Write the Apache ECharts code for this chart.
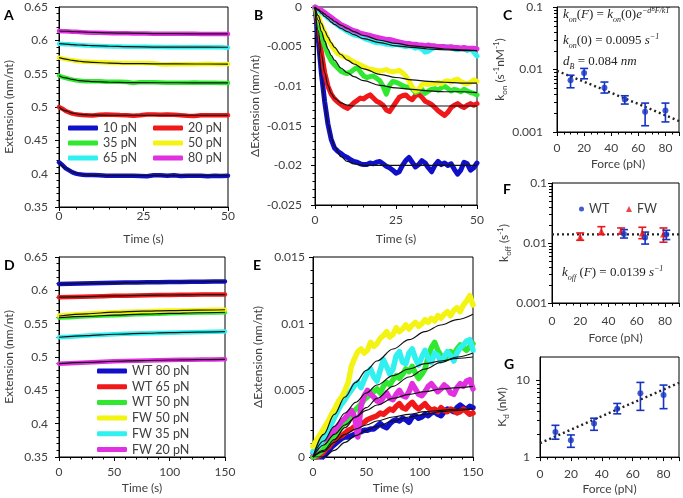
<!DOCTYPE html>
<html><head><meta charset="utf-8">
<script src="https://cdn.jsdelivr.net/npm/echarts@6/dist/echarts.min.js"></script>
<style>html,body{margin:0;padding:0;background:#fff}#c{width:683px;height:498px}</style>
</head><body><div id="c"></div>
<script>
// ---------- Panel A (Extension vs time, 0-50 s) ----------
const tA = [0,1,2,3,4,5,6,7,8,10,12,14,16,18,20,22,24,26,28,30,32,34,36,38,40,42,44,46,48,50];
const aBlue = [0.417,0.413,0.408,0.405,0.402,0.400,0.399,0.3985,0.398,0.398,
  0.3975,0.397,0.397,0.397,0.397,0.397,0.3965,0.396,0.3975,0.3975,
  0.397,0.3975,0.3965,0.397,0.397,0.397,0.396,0.397,0.3965,0.397];
const aRed = [0.500,0.4975,0.494,0.492,0.490,0.489,0.4885,0.488,0.4877,0.4873,
  0.4885,0.4887,0.4885,0.488,0.4878,0.487,0.4875,0.4887,0.4888,0.4885,
  0.4888,0.4882,0.4878,0.4870,0.4865,0.4875,0.4878,0.4875,0.4878,0.4878];
const aGreen = [0.547,0.545,0.5435,0.5422,0.541,0.540,0.5395,0.539,0.5387,0.5385,
  0.5388,0.5380,0.5378,0.5380,0.5376,0.5360,0.5373,0.5372,0.5370,0.5368,
  0.5364,0.5365,0.5362,0.5365,0.5366,0.5364,0.5365,0.5363,0.5361,0.5359];
const aYellow = [0.574,0.573,0.5718,0.571,0.570,0.5693,0.5686,0.5682,0.568,0.5676,
  0.5672,0.5667,0.5663,0.5661,0.566,0.5661,0.5659,0.5658,0.5655,0.5642,
  0.5638,0.5644,0.5643,0.5645,0.5642,0.5646,0.5648,0.5644,0.5643,0.5645];
const aCyan = [0.595,0.5946,0.5943,0.594,0.5936,0.5933,0.593,0.5927,0.5924,0.5919,
  0.5915,0.5912,0.5909,0.5906,0.5905,0.5903,0.5902,0.5902,0.5900,0.5900,
  0.5898,0.5899,0.5896,0.5895,0.5899,0.5898,0.5897,0.5896,0.5897,0.5890];
const aMagenta = [0.614,0.6138,0.6136,0.6133,0.613,0.6127,0.6124,0.6121,0.6118,0.6114,
  0.6112,0.6110,0.6108,0.6106,0.6105,0.6104,0.6103,0.6101,0.6100,0.6099,
  0.6099,0.6098,0.6098,0.6097,0.6097,0.6096,0.6096,0.6095,0.6095,0.6094];
const tAf = [0,2,4,6,8,10,15,20,30,40,50];
const afBlue = [0.417,0.4085,0.4025,0.3995,0.398,0.3974,0.397,0.397,0.397,0.397,0.397];
const afRed = [0.500,0.4942,0.4907,0.4890,0.4882,0.4878,0.4876,0.4876,0.4876,0.4876,0.4876];
const afGreen = [0.547,0.5436,0.5413,0.5397,0.5387,0.538,0.5371,0.5367,0.5364,0.5363,0.5363];
const afYellow = [0.574,0.5718,0.5700,0.5686,0.5676,0.5669,0.5658,0.5652,0.5647,0.5645,0.5644];
const afCyan = [0.595,0.5943,0.5936,0.5930,0.5925,0.5920,0.5911,0.5905,0.5899,0.5897,0.5896];
const afMagenta = [0.614,0.6136,0.6131,0.6127,0.6123,0.6119,0.6112,0.6107,0.6101,0.6098,0.6096];

// ---------- Panel B (ΔExtension, 0-50 s) ----------
const tB = [0,1,2,3,4,5,6,7,8,9,10,11,12,13,14,15,16,17,18,19,20,21,22,23,24,25,26,27,28,29,30,31,32,33,34,35,36,37,38,39,40,41,42,43,44,45,46,47,48,49,50];
const bBlue = [0,-0.004,-0.0085,-0.012,-0.0148,-0.0167,-0.0178,-0.0182,-0.0185,-0.0188,
  -0.019,-0.0193,-0.0195,-0.0196,-0.0198,-0.0199,-0.0199,-0.0197,-0.0198,-0.0196,
  -0.0195,-0.0198,-0.0201,-0.0203,-0.0206,-0.021,-0.0208,-0.02,-0.0194,-0.019,
  -0.0196,-0.0202,-0.0199,-0.0194,-0.0197,-0.0203,-0.0208,-0.02,-0.0195,-0.0199,
  -0.0197,-0.02,-0.0198,-0.0205,-0.0211,-0.0206,-0.0196,-0.0198,-0.0206,-0.0203,
  -0.0197];
const bRed = [0,-0.0025,-0.0058,-0.0083,-0.0100,-0.0110,-0.0116,-0.0120,-0.0123,-0.0126,
  -0.0128,-0.0125,-0.0121,-0.0118,-0.0115,-0.0116,-0.0113,-0.0111,-0.0115,-0.0119,
  -0.0121,-0.0124,-0.0130,-0.0132,-0.0126,-0.0120,-0.0114,-0.0112,-0.0111,-0.0115,
  -0.0117,-0.0112,-0.0110,-0.0114,-0.0119,-0.0121,-0.0123,-0.0127,-0.0131,-0.0134,
  -0.0137,-0.0133,-0.0127,-0.0124,-0.0122,-0.0125,-0.0127,-0.0124,-0.0122,-0.0124,
  -0.0122];
const bGreen = [0,-0.0020,-0.0036,-0.0049,-0.0060,-0.0068,-0.0073,-0.0077,-0.0081,-0.0083,
  -0.0084,-0.0082,-0.0079,-0.0076,-0.0082,-0.0087,-0.0089,-0.0088,-0.0087,-0.0090,
  -0.0093,-0.0100,-0.0110,-0.0099,-0.0094,-0.0095,-0.0097,-0.0099,-0.0101,-0.0101,
  -0.0103,-0.0108,-0.0106,-0.0104,-0.0109,-0.0106,-0.0104,-0.0103,-0.0105,-0.0102,
  -0.0100,-0.0103,-0.0106,-0.0104,-0.0105,-0.0107,-0.0104,-0.0106,-0.0108,-0.0109,
  -0.0111];
const bYellow = [0,-0.0011,-0.0023,-0.0032,-0.0041,-0.0048,-0.0054,-0.0059,-0.0061,-0.0063,
  -0.0064,-0.0067,-0.0069,-0.0071,-0.0073,-0.0075,-0.0077,-0.0079,-0.0079,-0.0080,
  -0.0081,-0.0080,-0.0079,-0.0081,-0.0082,-0.0081,-0.0080,-0.0083,-0.0087,-0.0093,
  -0.0101,-0.0106,-0.0104,-0.0098,-0.0097,-0.0098,-0.0096,-0.0097,-0.0095,-0.0097,
  -0.0094,-0.0093,-0.0095,-0.0092,-0.0091,-0.0094,-0.0096,-0.0097,-0.0095,-0.0092,
  -0.0094];
const bCyan = [0,-0.0004,-0.0007,-0.0010,-0.0014,-0.0017,-0.0020,-0.0023,-0.0026,-0.0028,
  -0.0031,-0.0033,-0.0035,-0.0036,-0.0037,-0.0039,-0.0041,-0.0042,-0.0044,-0.0045,
  -0.0045,-0.0046,-0.0047,-0.0047,-0.0048,-0.0047,-0.0048,-0.0049,-0.0050,-0.0049,
  -0.0050,-0.0052,-0.0051,-0.0053,-0.0057,-0.0056,-0.0053,-0.0051,-0.0050,-0.0051,
  -0.0052,-0.0050,-0.0051,-0.0053,-0.0054,-0.0052,-0.0053,-0.0055,-0.0053,-0.0057,
  -0.0062];
const bMagenta = [0,-0.0002,-0.0004,-0.0007,-0.0010,-0.0013,-0.0016,-0.0019,-0.0022,-0.0024,
  -0.0026,-0.0028,-0.0030,-0.0031,-0.0033,-0.0034,-0.0035,-0.0036,-0.0037,-0.0038,
  -0.0039,-0.0040,-0.0041,-0.0041,-0.0042,-0.0043,-0.0044,-0.0045,-0.0046,-0.0046,
  -0.0047,-0.0047,-0.0048,-0.0048,-0.0049,-0.0048,-0.0049,-0.0049,-0.0050,-0.0050,
  -0.0050,-0.0051,-0.0050,-0.0051,-0.0051,-0.0052,-0.0051,-0.0052,-0.0052,-0.0052,
  -0.0053];
const tBf = [0,1,2,3,4,5,6,8,10,12,15,20,25,30,35,40,45,50];
const bfBlue = [0,-0.0045,-0.0088,-0.0122,-0.0148,-0.0165,-0.0176,-0.0189,-0.0195,-0.0198,-0.0200,-0.0200,-0.0200,-0.0200,-0.0200,-0.0200,-0.0200,-0.0200];
const bfRed = [0,-0.0030,-0.0060,-0.0083,-0.0099,-0.0109,-0.0115,-0.0121,-0.0124,-0.0125,-0.0125,-0.0125,-0.0125,-0.0125,-0.0125,-0.0125,-0.0125,-0.0125];
const bfGreen = [0,-0.0017,-0.0031,-0.0043,-0.0053,-0.0061,-0.0067,-0.0077,-0.0083,-0.0088,-0.0093,-0.0099,-0.0102,-0.0104,-0.0106,-0.0107,-0.0107,-0.0108];
const bfYellow = [0,-0.0011,-0.0021,-0.0030,-0.0038,-0.0045,-0.0051,-0.0060,-0.0067,-0.0072,-0.0078,-0.0085,-0.0089,-0.0092,-0.0094,-0.0095,-0.0096,-0.0096];
const bfCyan = [0,-0.0004,-0.0008,-0.0012,-0.0015,-0.0019,-0.0022,-0.0027,-0.0031,-0.0035,-0.0040,-0.0045,-0.0049,-0.0051,-0.0053,-0.0054,-0.0055,-0.0055];
const bfMagenta = [0,-0.0003,-0.0006,-0.0009,-0.0012,-0.0015,-0.0018,-0.0023,-0.0027,-0.0031,-0.0036,-0.0042,-0.0046,-0.0049,-0.0051,-0.0053,-0.0054,-0.0055];

// ---------- Panel C (kon vs force) ----------
const forceC = [10,20,35,50,65,80];
const kon = [0.0067,0.0088,0.0051,0.0033,0.0021,0.0022];
const konLo = [0.0051,0.0071,0.0042,0.0028,0.00126,0.00145];
const konHi = [0.0081,0.0104,0.0063,0.0038,0.0029,0.0029];
const fitForce = [0,30,60,90];
const konFit = [0.0095,0.0052,0.0028,0.0015];

// ---------- Panel F (koff vs force) ----------
const wtForce = [51,66,81];
const wtKoff = [0.0141,0.0124,0.0138];
const wtLo = [0.0121,0.0096,0.0114];
const wtHi = [0.0167,0.0152,0.0163];
const fwForce = [20,35,49,64,79];
const fwKoff = [0.0126,0.0157,0.0157,0.0147,0.0141];
const fwLo = [0.0111,0.0138,0.0141,0.0118,0.0103];
const fwHi = [0.0147,0.0187,0.0178,0.0183,0.0178];
const koffFitForce = [0,90];
const koffFit = [0.0139,0.0139];

// ---------- Panel G (Kd vs force) ----------
const forceG = [10,20,35,50,65,80];
const kd = [2.12,1.66,2.74,4.26,6.76,6.43];
const kdLo = [1.71,1.34,2.23,3.65,4.05,4.26];
const kdHi = [2.59,1.94,3.2,4.98,9.35,8.63];
const kdFit = [1.52,2.78,5.07,9.24];

// ---------- log-axis minor tick values ----------
const minorTicksK = [0.002,0.003,0.004,0.005,0.006,0.007,0.008,0.009,0.02,0.03,0.04,0.05,0.06,0.07,0.08,0.09];
const minorTicksKd = [2,3,4,5,6,7,8,9];

// ---------- Panel D (Extension, 0-150 s) ----------
const tD = [0,10,20,30,40,50,60,70,80,90,100,110,120,130,140,150];
const dBlue = [0.6094,0.6098,0.6102,0.6106,0.6110,0.6113,0.6116,0.6118,0.6120,0.6122,0.6124,0.6126,0.6128,0.6130,0.6132,0.6134];
const dRed = [0.5898,0.5900,0.5905,0.5909,0.5913,0.5917,0.5920,0.5923,0.5926,0.5929,0.5931,0.5933,0.5935,0.5936,0.5937,0.5938];
const dGreen = [0.5592,0.5598,0.5606,0.5614,0.5621,0.5628,0.5634,0.5640,0.5645,0.5650,0.5655,0.5659,0.5663,0.5666,0.5669,0.5672];
const dYellow = [0.5622,0.5632,0.5645,0.5656,0.5665,0.5672,0.5678,0.5683,0.5688,0.5692,0.5696,0.5699,0.5702,0.5705,0.5707,0.5710];
const dCyan = [0.5296,0.5305,0.5316,0.5326,0.5334,0.5341,0.5347,0.5352,0.5357,0.5361,0.5365,0.5369,0.5372,0.5375,0.5378,0.5381];
const dMagenta = [0.4900,0.4907,0.4915,0.4923,0.4930,0.4936,0.4941,0.4945,0.4949,0.4952,0.4955,0.4958,0.4960,0.4962,0.4964,0.4965];
const tDf = [0,25,50,75,100,125,150];
const dfBlue = [0.6094,0.6104,0.6113,0.6120,0.6125,0.6129,0.6132];
const dfRed = [0.5898,0.5907,0.5917,0.5925,0.5930,0.5934,0.5937];
const dfGreen = [0.5592,0.5610,0.5628,0.5643,0.5655,0.5664,0.5671];
const dfYellow = [0.5615,0.5648,0.5672,0.5687,0.5697,0.5704,0.5709];
const dfCyan = [0.5296,0.5321,0.5341,0.5355,0.5365,0.5373,0.5380];
const dfMagenta = [0.4900,0.4919,0.4936,0.4947,0.4955,0.4960,0.4964];

// ---------- Panel E (ΔExtension, 0-150 s) ----------
const tE = [0,3,6,9,12,15,18,21,24,27,30,33,36,39,42,45,48,51,54,57,60,63,66,69,72,75,78,81,84,87,90,93,96,99,102,105,108,111,114,117,120,123,126,129,132,135,138,141,144,147,150];
const eYellow = [0.0008,0.0012,0.0016,0.0020,0.0024,0.0028,0.0033,0.0037,0.0042,0.0045,
  0.0050,0.0056,0.0068,0.0074,0.0079,0.0081,0.0078,0.0080,0.0086,0.0083,
  0.0085,0.0089,0.0091,0.0094,0.0090,0.0092,0.0097,0.0094,0.0096,0.0099,
  0.0096,0.0099,0.0101,0.0098,0.0100,0.0103,0.0101,0.0104,0.0102,0.0106,
  0.0104,0.0107,0.0109,0.0106,0.0110,0.0112,0.0109,0.0114,0.0117,0.0121,
  0.0114];
const eCyan = [0.0004,0.0007,0.0009,0.0013,0.0017,0.0022,0.0026,0.0031,0.0036,0.0040,
  0.0043,0.0047,0.0050,0.0054,0.0056,0.0052,0.0058,0.0063,0.0066,0.0060,
  0.0057,0.0065,0.0073,0.0068,0.0062,0.0066,0.0076,0.0079,0.0071,0.0070,
  0.0078,0.0081,0.0074,0.0069,0.0075,0.0080,0.0074,0.0071,0.0078,0.0076,
  0.0072,0.0075,0.0079,0.0076,0.0072,0.0078,0.0082,0.0084,0.0087,0.0088,
  0.0080];
const eGreen = [0,0.0001,0.0003,0.0005,0.0008,0.0011,0.0014,0.0017,0.0020,0.0023,
  0.0026,0.0029,0.0032,0.0035,0.0037,0.0040,0.0043,0.0045,0.0047,0.0049,
  0.0051,0.0048,0.0053,0.0056,0.0054,0.0058,0.0061,0.0059,0.0062,0.0066,
  0.0064,0.0068,0.0063,0.0059,0.0062,0.0066,0.0075,0.0082,0.0086,0.0080,
  0.0076,0.0073,0.0076,0.0079,0.0077,0.0081,0.0084,0.0082,0.0080,0.0083,
  0.0085];
const eMagenta = [0.0003,0.0006,0.0009,0.0012,0.0014,0.0016,0.0018,0.0021,0.0024,0.0027,
  0.0029,0.0032,0.0035,0.0030,0.0015,0.0038,0.0046,0.0050,0.0047,0.0045,
  0.0042,0.0041,0.0045,0.0048,0.0044,0.0043,0.0047,0.0050,0.0046,0.0045,
  0.0049,0.0055,0.0051,0.0047,0.0046,0.0049,0.0053,0.0055,0.0052,0.0049,
  0.0051,0.0054,0.0052,0.0048,0.0047,0.0052,0.0055,0.0053,0.0057,0.0058,
  0.0051];
const eRed = [0,0,0.0001,0.0003,0.0006,0.0008,0.0011,0.0013,0.0015,0.0016,
  0.0018,0.0020,0.0021,0.0023,0.0024,0.0025,0.0026,0.0028,0.0029,0.0030,
  0.0031,0.0033,0.0032,0.0034,0.0036,0.0035,0.0038,0.0040,0.0037,0.0036,
  0.0039,0.0041,0.0038,0.0036,0.0038,0.0040,0.0037,0.0035,0.0036,0.0034,
  0.0037,0.0035,0.0034,0.0036,0.0035,0.0033,0.0034,0.0036,0.0034,0.0032,
  0.0033];
const eBlue = [0,0,0,0,0.0002,0.0005,0.0008,0.0010,0.0012,0.0014,
  0.0015,0.0015,0.0016,0.0017,0.0018,0.0019,0.0020,0.0020,0.0021,0.0021,
  0.0023,0.0025,0.0023,0.0022,0.0025,0.0027,0.0028,0.0027,0.0029,0.0028,
  0.0026,0.0030,0.0031,0.0029,0.0030,0.0032,0.0031,0.0033,0.0034,0.0032,
  0.0031,0.0034,0.0036,0.0035,0.0034,0.0037,0.0039,0.0037,0.0036,0.0038,
  0.0037];
const tEf = [0,10,20,30,40,50,60,75,90,105,120,135,150];
const efYellow = [0,0.0017,0.0032,0.0045,0.0056,0.0065,0.0072,0.0081,0.0088,0.0094,0.0099,0.0103,0.0107];
const efCyan = [0,0.0012,0.0023,0.0033,0.0041,0.0048,0.0054,0.0061,0.0066,0.0070,0.0072,0.0074,0.0075];
const efGreen = [0,0.0005,0.0013,0.0022,0.0030,0.0037,0.0044,0.0053,0.0060,0.0066,0.0071,0.0075,0.0078];
const efMagenta = [0,0.0009,0.0017,0.0024,0.0030,0.0035,0.0039,0.0044,0.0047,0.0049,0.0051,0.0052,0.0053];
const efRed = [0,0.0004,0.0011,0.0017,0.0021,0.0024,0.0027,0.0030,0.0032,0.0034,0.0035,0.0036,0.0036];
const efBlue = [0,0,0.0005,0.0011,0.0016,0.0020,0.0023,0.0027,0.0030,0.0032,0.0034,0.0035,0.0036];

// ---------- labels ----------
const namesA = ['10 pN','20 pN','35 pN','50 pN','65 pN','80 pN'];
const namesD = ['WT 80 pN','WT 65 pN','WT 50 pN','FW 50 pN','FW 35 pN','FW 20 pN'];

// ---------- styling ----------
const FONT = 'Lato';
const TXT = '#404040';
const C_BLUE = '#1010c8', C_RED = '#f01818', C_GREEN = '#30e830', C_YELLOW = '#f4f414', C_CYAN = '#30f0f0', C_MAG = '#e030e0';
const PT_BLUE = '#1533c4', PT_RED = '#e8181c';
const colsA = [C_BLUE, C_RED, C_GREEN, C_YELLOW, C_CYAN, C_MAG];
const colsD = [C_BLUE, C_RED, C_GREEN, C_YELLOW, C_CYAN, C_MAG];

function zip(xs, ys){ return xs.map((x,i)=>[x, ys[i]]); }
function trace(name, gi, xs, ys, color, w){
  return {type:'line', name, xAxisIndex:gi, yAxisIndex:gi, data:zip(xs,ys), symbol:'none', showSymbol:false,
    silent:true, animation:false, lineStyle:{color, width:w, cap:'round', join:'round'}, itemStyle:{color}, z:2};
}
function fit(gi, xs, ys){
  return {type:'line', name:'_fit', xAxisIndex:gi, yAxisIndex:gi, data:zip(xs,ys), symbol:'none', showSymbol:false,
    silent:true, animation:false, smooth:0.35, smoothMonotone:'x', lineStyle:{color:'#111', width:1.2}, z:4};
}
function dotted(gi, xs, ys){
  return {type:'line', name:'_dot', xAxisIndex:gi, yAxisIndex:gi, data:zip(xs,ys), symbol:'none', showSymbol:false,
    silent:true, animation:false, lineStyle:{color:'#222', width:2.4, type:[2,3]}, z:3};
}
function pts(name, gi, xs, ys, color, symbol, size){
  return {type:'scatter', name, xAxisIndex:gi, yAxisIndex:gi, data:zip(xs,ys), symbol, symbolSize:size,
    silent:true, animation:false, itemStyle:{color}, z:6};
}
function errbars(gi, xs, lo, hi, color){
  return {type:'custom', name:'_err', xAxisIndex:gi, yAxisIndex:gi, silent:true, animation:false, z:5,
    data: xs.map((x,i)=>[x, lo[i], hi[i]]), encode:{x:0, y:[1,2]},
    renderItem:(params, api)=>{
      const x = api.value(0);
      const p1 = api.coord([x, api.value(1)]), p2 = api.coord([x, api.value(2)]);
      const hw = 4, st = {stroke:color, lineWidth:1.6};
      return {type:'group', children:[
        {type:'line', shape:{x1:p1[0], y1:p1[1], x2:p2[0], y2:p2[1]}, style:st},
        {type:'line', shape:{x1:p1[0]-hw, y1:p1[1], x2:p1[0]+hw, y2:p1[1]}, style:st},
        {type:'line', shape:{x1:p2[0]-hw, y1:p2[1], x2:p2[0]+hw, y2:p2[1]}, style:st}
      ]};
    }};
}
// minor ticks for log y axes, placed through the axis scale
function logMinor(gi, vals, xmin){
  return {type:'custom', name:'_mt', xAxisIndex:gi, yAxisIndex:gi, silent:true, animation:false, z:1, clip:false,
    data: vals.map(v=>[xmin, v]), encode:{x:0, y:1},
    renderItem:(params, api)=>{
      const c = api.coord([api.value(0), api.value(1)]);
      return {type:'line', shape:{x1:c[0]-3, y1:Math.round(c[1])+0.5, x2:c[0], y2:Math.round(c[1])+0.5}, style:{stroke:'#000', lineWidth:1}};
    }};
}

const nameRich = {
  b:{fontFamily:FONT, fontSize:12, lineHeight:16, color:TXT},
  s:{fontFamily:FONT, fontSize:8, lineHeight:9, verticalAlign:'bottom', color:TXT},
  p:{fontFamily:FONT, fontSize:8, lineHeight:9, verticalAlign:'top', color:TXT}
};
function axis(gi, o){
  const a = {
    gridIndex:gi, type:o.type||'value', min:o.min, max:o.max,
    name:o.name, nameLocation:'middle', nameGap:o.nameGap,
    nameTextStyle:{color:TXT, fontFamily:FONT, fontSize:12, lineHeight:16, rich:nameRich},
    axisLine:{show:true, onZero:false, lineStyle:{color:'#000', width:1}},
    axisTick:{show:true, length:4, lineStyle:{color:'#000', width:1}},
    minorTick:{show: o.minor!==undefined, splitNumber:o.minor||5, length:2.5, lineStyle:{color:'#000', width:1}},
    splitLine:{show:false}, minorSplitLine:{show:false},
    axisLabel:{color:TXT, fontFamily:FONT, fontSize:12, margin:o.margin, showMaxLabel:o.showMax!==false,
      formatter:o.formatter},
    animation:false
  };
  if (o.interval!==undefined) a.interval = o.interval;
  if (o.type==='log') a.logBase = 10;
  return a;
}
function gridBox(l,t,w,h){ return {left:l, top:t, width:w, height:h, show:true, borderColor:'#000', borderWidth:1, backgroundColor:'transparent', containLabel:false}; }

const grids = [
  gridBox(58,7,170,200),     // 0 A
  gridBox(315,7,162,198),    // 1 B
  gridBox(557,7,122,125),    // 2 C
  gridBox(552,183,127,120),  // 3 F
  gridBox(540,357,139,101),  // 4 G
  gridBox(58,257,167,200),   // 5 D
  gridBox(313,257,160,200)   // 6 E
];
const logFmt = v => { const l = Math.log10(v); return Math.abs(l-Math.round(l))<1e-6 ? String(v) : ''; };
const xAxes = [
  axis(0,{min:0,max:50,interval:25,minor:5,name:'Time (s)',nameGap:24,margin:3}),
  axis(1,{min:0,max:50,interval:25,minor:5,name:'Time (s)',nameGap:26,margin:9}),
  axis(2,{min:0,max:90,interval:20,minor:4,name:'Force (pN)',nameGap:24,margin:10,showMax:false}),
  axis(3,{min:0,max:90,interval:20,minor:4,name:'Force (pN)',nameGap:27,margin:12,showMax:false}),
  axis(4,{min:0,max:90,interval:20,minor:4,name:'Force (pN)',nameGap:22,margin:11,showMax:false}),
  axis(5,{min:0,max:150,interval:50,minor:5,name:'Time (s)',nameGap:23,margin:9}),
  axis(6,{min:0,max:150,interval:50,minor:5,name:'Time (s)',nameGap:23,margin:9})
];
const yAxes = [
  axis(0,{min:0.35,max:0.65,interval:0.05,minor:5,name:'Extension (nm/nt)',nameGap:42,margin:11}),
  axis(1,{min:-0.025,max:0,interval:0.005,minor:5,name:'\u0394Extension (nm/nt)',nameGap:52,margin:13}),
  axis(2,{type:'log',min:0.001,max:0.1,name:'{b|k}{s|on} (s{p|-1}nM{p|-1})',nameGap:45,margin:14,formatter:logFmt}),
  axis(3,{type:'log',min:0.001,max:0.1,name:'{b|k}{s|off} (s{p|-1})',nameGap:40,margin:5,formatter:logFmt}),
  axis(4,{type:'log',min:1,max:20,name:'{b|K}{s|d} (nM)',nameGap:30,margin:10,showMax:false,formatter:logFmt}),
  axis(5,{min:0.35,max:0.65,interval:0.05,minor:5,name:'Extension (nm/nt)',nameGap:42,margin:11}),
  axis(6,{min:0,max:0.015,interval:0.005,minor:5,name:'\u0394Extension (nm/nt)',nameGap:47,margin:8})
];

const series = [];
// A
[aBlue,aRed,aGreen,aYellow,aCyan,aMagenta].forEach((d,i)=>series.push(trace(namesA[i],0,tA,d,colsA[i],4.5)));
[afBlue,afRed,afGreen,afYellow,afCyan,afMagenta].forEach(d=>series.push(fit(0,tAf,d)));
// B
[bBlue,bRed,bGreen,bYellow,bCyan,bMagenta].forEach((d,i)=>series.push(trace(namesA[i],1,tB,d,colsA[i],5)));
[bfBlue,bfRed,bfGreen,bfYellow,bfCyan,bfMagenta].forEach(d=>series.push(fit(1,tBf,d)));
// C
series.push(logMinor(2, minorTicksK, 0));
series.push(dotted(2, fitForce, konFit));
series.push(errbars(2, forceC, konLo, konHi, PT_BLUE));
series.push(pts('_kon', 2, forceC, kon, PT_BLUE, 'circle', 6));
// F
series.push(logMinor(3, minorTicksK, 0));
series.push(dotted(3, koffFitForce, koffFit));
series.push(errbars(3, fwForce, fwLo, fwHi, PT_RED));
series.push(errbars(3, wtForce, wtLo, wtHi, PT_BLUE));
series.push(pts('FW', 3, fwForce, fwKoff, PT_RED, 'triangle', 7));
series.push(pts('WT', 3, wtForce, wtKoff, PT_BLUE, 'circle', 6));
// G
series.push(logMinor(4, minorTicksKd, 0));
series.push(dotted(4, fitForce, kdFit));
series.push(errbars(4, forceG, kdLo, kdHi, PT_BLUE));
series.push(pts('_kd', 4, forceG, kd, PT_BLUE, 'circle', 6));
// D
[dBlue,dRed,dGreen,dYellow,dCyan,dMagenta].forEach((d,i)=>series.push(trace(namesD[i],5,tD,d,colsD[i],4.5)));
[dfBlue,dfRed,dfGreen,dfYellow,dfCyan,dfMagenta].forEach(d=>series.push(fit(5,tDf,d)));
// E (draw order: blue, red, green, magenta, cyan, yellow)
const eOrder = [[eBlue,0],[eRed,1],[eGreen,2],[eMagenta,5],[eCyan,4],[eYellow,3]];
eOrder.forEach(([d,i])=>series.push(trace(namesD[i],6,tE,d,colsD[i],5.5)));
[efBlue,efRed,efGreen,efMagenta,efCyan,efYellow].forEach(d=>series.push(fit(6,tEf,d)));

// legends
const legTxt = {fontFamily:FONT, fontSize:12.5, color:TXT, lineHeight:14};
const legends = [];
const rowsTop = [121,136,151], colsLeft = [68,153];
namesA.forEach((n,i)=>{
  legends.push({data:[n], left:colsLeft[i%2], top:rowsTop[Math.floor(i/2)], padding:0, icon:'roundRect',
    itemWidth:30, itemHeight:5, selectedMode:false, textStyle:legTxt});
});
legends.push({data:namesD, orient:'vertical', left:97, top:364, padding:0, itemGap:1.7, icon:'roundRect',
  itemWidth:30, itemHeight:5, selectedMode:false, textStyle:legTxt});
legends.push({data:['WT'], left:579, top:202, padding:0, itemWidth:5, itemHeight:5, selectedMode:false, textStyle:legTxt});
legends.push({data:['FW'], left:626, top:202, padding:0, itemWidth:6, itemHeight:6, selectedMode:false, textStyle:legTxt});

// graphic texts
const letter = (t,x,y)=>({type:'text', x, y, silent:true, style:{text:t, font:'bold 14px Lato', fill:'#000', verticalAlign:'middle'}});
const mathRich = {
  i:{fontFamily:'Liberation Serif', fontStyle:'italic', fontSize:13, lineHeight:17, fill:'#222'},
  r:{fontFamily:'Liberation Serif', fontSize:13, lineHeight:17, fill:'#222'},
  s:{fontFamily:'Liberation Serif', fontStyle:'italic', fontSize:8, lineHeight:9, verticalAlign:'bottom', fill:'#222'},
  p:{fontFamily:'Liberation Serif', fontStyle:'italic', fontSize:8, lineHeight:10, verticalAlign:'top', fill:'#222'},
  pp:{fontFamily:'Liberation Serif', fontStyle:'italic', fontSize:5.5, lineHeight:14, verticalAlign:'top', fill:'#222'}
};
const mtext = (t,x,y)=>({type:'text', x, y, silent:true, style:{text:t, rich:mathRich, verticalAlign:'middle', fill:'#222'}});
const graphics = [
  letter('A',4,15), letter('B',254,15), letter('C',503,15), letter('D',4,265),
  letter('E',253,265), letter('F',503,189), letter('G',504,364),
  mtext('{i|k}{s|on}{r|(}{i|F}{r|) = }{i|k}{s|on}{r|(0)}{i|e}{p|\u2212d}{pp|B}{p|F/kT}', 563, 15),
  mtext('{i|k}{s|on}{r|(0) = 0.0095 }{i|s}{p|\u22121}', 563, 41),
  mtext('{i|d}{s|B}{r| = 0.084 }{i|nm}', 563, 62),
  mtext('{i|k}{s|off}{r| (}{i|F}{r|) = 0.0139 }{i|s}{p|\u22121}', 562, 273)
];

const chart = echarts.init(document.getElementById('c'), null, {renderer:'canvas'});
chart.setOption({
  animation:false,
  backgroundColor:'#fff',
  textStyle:{fontFamily:FONT},
  grid:grids, xAxis:xAxes, yAxis:yAxes, series, legend:legends, graphic:graphics
});
</script></body></html>
